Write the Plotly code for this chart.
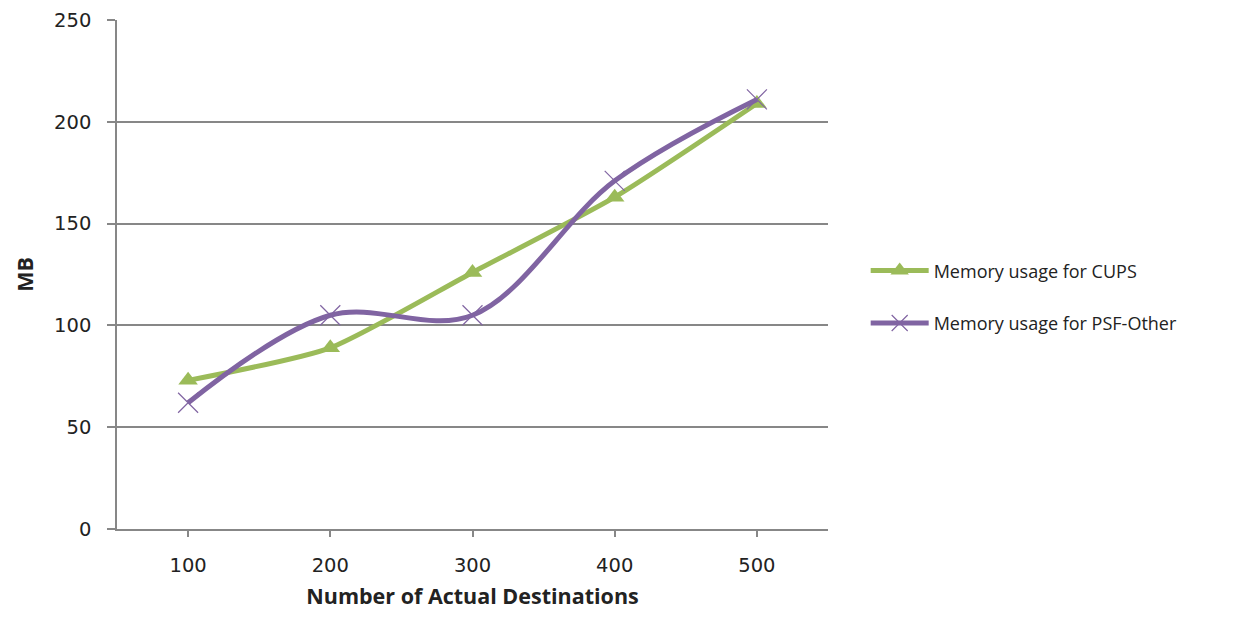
import plotly.graph_objects as go

destinations = [100, 200, 300, 400, 500]
cups_mb = [73, 89, 126, 163, 209]
psf_mb = [62, 105, 105, 171, 211]
y_ticks = [0, 50, 100, 150, 200, 250]

GREEN = "#9BBB59"
PURPLE = "#8064A2"
GRID = "#878787"
TXT = "#222222"
TICKFONT = dict(family="DejaVu Sans", size=19.5, color=TXT)
TITLEFONT = dict(family="Open Sans", size=21.5, color=TXT)

fig = go.Figure()
fig.add_trace(go.Scatter(
    x=destinations, y=cups_mb, name="Memory usage for CUPS",
    mode="lines+markers", line=dict(color=GREEN, width=5, shape="spline", smoothing=0.6),
    marker=dict(symbol="triangle-up", size=17, color=GREEN),
    legendgroup="a",
))
fig.add_trace(go.Scatter(
    x=destinations, y=psf_mb, name="Memory usage for PSF-Other",
    mode="lines+markers", line=dict(color=PURPLE, width=5, shape="spline", smoothing=1.0),
    marker=dict(symbol="x-thin", size=20, line=dict(color=PURPLE, width=1.2)),
    legendgroup="b",
))

fig.update_layout(
    width=1243, height=602,
    margin=dict(l=109, r=423, t=12, b=81),
    paper_bgcolor="white", plot_bgcolor="white",
    font=dict(family="Open Sans", size=18, color=TXT),
    legend=dict(x=1.053, xanchor="left", y=0.456, yanchor="middle",
                traceorder="grouped", tracegroupgap=26, itemwidth=58,
                font=dict(family="Open Sans", size=18, color=TXT)),
    xaxis=dict(
        range=[50, 550], tickvals=destinations, ticktext=[str(d) for d in destinations],
        showgrid=False, zeroline=False, showline=True, linecolor=GRID, linewidth=1.5,
        ticks="outside", ticklen=6, tickcolor=GRID, tickwidth=1.5,
        tickfont=TICKFONT, ticklabelstandoff=12, automargin=False,
        title=dict(text="<b>Number of Actual Destinations</b>", font=TITLEFONT),
    ),
    yaxis=dict(
        range=[0, 250], tickvals=y_ticks,
        showgrid=True, gridcolor=GRID, gridwidth=1.5, zeroline=False,
        showline=True, linecolor=GRID, linewidth=1.5,
        ticks="outside", ticklen=8, tickcolor=GRID, tickwidth=1.5,
        tickfont=TICKFONT, ticklabelstandoff=12, automargin=False,
        title=dict(text="<b>MB</b>", font=TITLEFONT),
    ),
)

fig.write_html("out.html")
